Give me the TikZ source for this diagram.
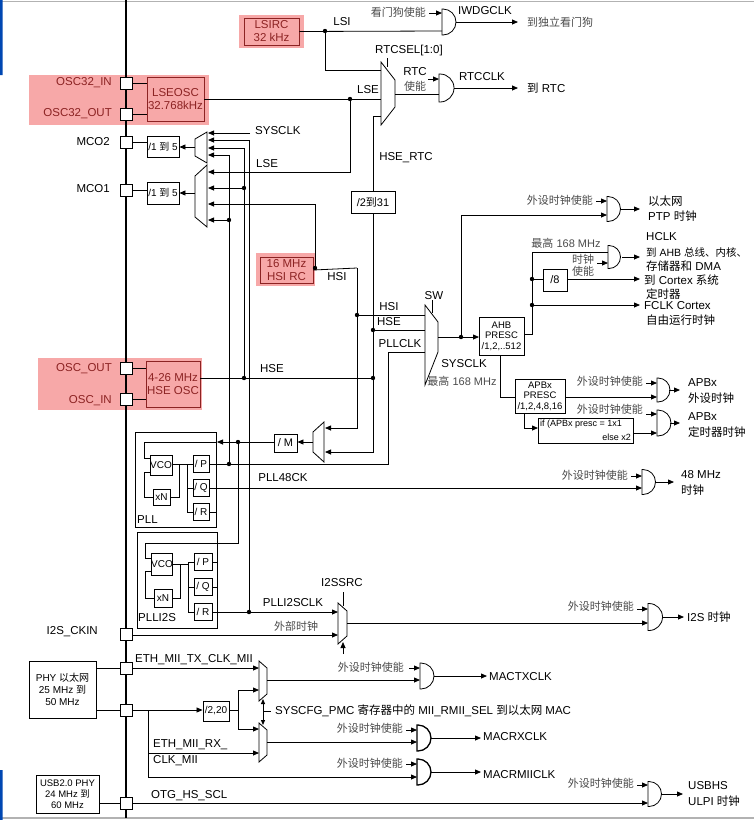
\documentclass[tikz,border=0pt]{standalone}
\usepackage{fontspec}
\setmainfont{Liberation Sans}
\newfontfamily\cjk{Noto Sans CJK SC}
\newcommand{\zh}[1]{{\cjk #1}}
\usetikzlibrary{arrows.meta}
\definecolor{hl}{RGB}{247,168,168}
\definecolor{hb}{RGB}{140,35,35}
\newcommand{\andgate}[4][]{\draw[ln,#1] (#2,#3-#4/2) -- (#2,#3+#4/2) -- ++(1,0) arc(90:-90:#4/2) -- cycle;}
\newcommand{\mux}[6]{\draw[ln] (#1,#2) -- (#1,#3) -- (#4,#6) -- (#4,#5) -- cycle;}
\newcommand{\jdot}[2]{\fill (#1,#2) circle (2.2);}
\begin{document}
\begin{tikzpicture}[x=1pt,y=-1pt,
 ln/.style={line width=0.8pt},
 arr/.style={ln,-{Triangle[length=6pt,width=5pt]}},
 lb/.style={font=\fontsize{11.5}{13}\selectfont,inner sep=1pt},
 sm/.style={font=\fontsize{9}{10}\selectfont,inner sep=1pt},
 en/.style={font=\fontsize{11}{12}\selectfont,inner sep=1pt,text=black!70},
 box/.style={draw,line width=0.9pt,inner sep=0pt,align=center,font=\fontsize{10}{11}\selectfont},
 rbox/.style={box,draw=hb,text=hb,font=\fontsize{11.5}{13}\selectfont},
 pin/.style={draw,line width=0.9pt,fill=white,minimum size=12pt,inner sep=0pt}]
\useasboundingbox (0,0) rectangle (754,820);
\fill[white] (0,0) rectangle (754,820);
\draw[gray!60,line width=1.5pt] (0,1.5)--(754,1.5) (0,818)--(754,818);
\fill[blue!60!cyan!70!black] (0,0) rectangle (2.5,75) (0,770) rectangle (2.5,820);
% highlights
\fill[hl] (29,75) rectangle (209,125);
\fill[hl] (239,15) rectangle (304,48);
\fill[hl] (256,253) rectangle (315,286);
\fill[hl] (38,358) rectangle (202,410);
% main bus
\draw[line width=2pt] (126,0) -- (126,818);
% pins
\node[pin] (p32i) at (126,83) {};
\node[pin] (p32o) at (126,114) {};
\node[pin] (pm2) at (126,142) {};
\node[pin] (pm1) at (126,190) {};
\node[pin] (poo) at (126,368) {};
\node[pin] (poi) at (126,399) {};
\node[pin] (pi2s) at (126,634) {};
\node[pin] (ph1) at (126,668) {};
\node[pin] (ph2) at (126,710) {};
\node[pin] (pusb) at (126,803) {};
\node[lb,text=hb,anchor=east] at (113,83) {OSC32\_IN};
\node[lb,text=hb,anchor=east] at (113,114) {OSC32\_OUT};
\node[lb,anchor=east] at (111,142) {MCO2};
\node[lb,anchor=east] at (111,189) {MCO1};
\node[lb,text=hb,anchor=east] at (113,369) {OSC\_OUT};
\node[lb,text=hb,anchor=east] at (113,401) {OSC\_IN};
\node[lb,anchor=east] at (99,632) {I2S\_CKIN};
% oscillators
\node[rbox,minimum width=55pt,minimum height=27pt] (lsi) at (271.5,31.5) {LSIRC\\32 kHz};
\node[rbox,minimum width=57pt,minimum height=44pt] (lse) at (175.5,99) {LSEOSC\\32.768kHz};
\node[rbox,minimum width=53pt,minimum height=26pt] (hsi) at (286.5,270) {16 MHz\\HSI RC};
\node[rbox,minimum width=54pt,minimum height=46pt] (hse) at (173,384) {4-26 MHz\\HSE OSC};
\draw[ln] (p32i.east) -- (147,83) (p32o.east) -- (147,114) (poo.east) -- (146,368) (poi.east) -- (146,399);
% LSI
\draw[ln] (lsi.east) -- (442,31);
\jdot{325}{31}
\draw[ln] (325,31) -- (325,70) -- (381,70);
\node[lb] at (342,22) {LSI};
\andgate{442}{22}{26}
\draw[arr] (429,13) -- (442,13);
\node[en,anchor=east] at (427,12) {\zh{看门狗使能}};
\draw[arr] (456,22) -- (518,22);
\node[lb] at (485,11) {IWDGCLK};
\node[en,anchor=west] at (526,22) {\zh{到独立看门狗}};
% RTC mux
\mux{381}{62}{125}{395}{80}{107}
\draw[ln] (387,58) -- (387,67);
\node[lb] at (409,51) {RTCSEL[1:0]};
\draw[ln] (395,94) -- (439,94);
\andgate{439}{88}{28}
\draw[arr] (428,79) -- (439,79);
\node[lb] at (415,72) {RTC};
\node[en] at (415,86) {\zh{使能}};
\draw[arr] (454,88) -- (518,88);
\node[lb] at (482,77) {RTCCLK};
\node[lb,anchor=west] at (526,88) {\zh{到} RTC};
% LSE
\draw[ln] (lse.east |- 0,99) -- (381,99);
\node[lb] at (368,90) {LSE};
\jdot{350}{99}
\draw[arr] (350,99) -- (350,172) -- (208,172);
\node[lb,anchor=west] at (255,164) {LSE};
% HSE_RTC
\node[box,minimum width=44pt,minimum height=22pt,font=\fontsize{11}{12}\selectfont] (div31) at (373,202) {/2\zh{到}31};
\draw[ln] (div31.north) -- (373,116) -- (381,116);
\node[lb] at (406,158) {HSE\_RTC};
\draw[ln] (div31.south) -- (373,378);
% MCO
\mux{207}{132}{163}{195}{139}{156}
\mux{207}{165}{227}{195}{176}{217}
\node[box,minimum width=32pt,minimum height=21pt] (d2) at (163,147) {/1 \zh{到} 5};
\node[box,minimum width=32pt,minimum height=22pt] (d1) at (163,193) {/1 \zh{到} 5};
\draw[arr] (195,147) -- (d2.east);
\draw[arr] (195,193) -- (d1.east);
\draw[ln] (pm2.east) -- (147,142);
\draw[ln] (pm1.east) -- (147,190);
\draw[arr] (250,133) -- (208,133);
\node[lb,anchor=west] at (254,131) {SYSCLK};
\draw[arr] (249,612) -- (249,140) -- (208,140);
\draw[arr] (244,378) -- (244,148) -- (208,148);
\draw[arr] (229,464) -- (229,155) -- (208,155);
\jdot{244}{188} \draw[arr] (244,188) -- (208,188);
\jdot{229}{220} \draw[arr] (229,220) -- (208,220);
% HSI
\draw[ln] (hsi.east) -- (357,268);
\jdot{315}{268}
\draw[arr] (315,268) -- (315,204) -- (208,204);
\node[lb] at (337,277) {HSI};
\draw[arr] (357,268) -- (357,428) -- (325,428);
\jdot{357}{315}
\draw[ln] (357,315) -- (425,315);
\node[lb] at (389,307) {HSI};
% HSE
\draw[ln] (hse.east |- 0,378) -- (373,378);
\jdot{244}{378} \jdot{373}{378}
\node[lb] at (272,369) {HSE};
\jdot{373}{330}
\draw[ln] (373,330) -- (425,330);
\node[lb] at (389,322) {HSE};
\draw[arr] (373,378) -- (373,452) -- (325,452);
% PLLCLK
\draw[ln] (229,464) -- (388,464) -- (388,352) -- (425,352);
\jdot{229}{464}
\node[lb] at (400,344) {PLLCLK};
% SW
\mux{425}{305}{385}{438}{322}{352}
\draw[ln] (432,300) -- (432,313);
\node[lb] at (434,296) {SW};
\draw[arr] (438,337) -- (479,337);
\jdot{461}{337}
\node[lb] at (464,364) {SYSCLK};
\node[en] at (462,381) {\zh{最高} 168 MHz};
% AHB
\node[box,minimum width=45pt,minimum height=38pt,font=\fontsize{9.5}{10.5}\selectfont] (ahb) at (501.5,336) {AHB\\PRESC\\/1,2,..512};
\draw[ln] (524,334) -- (532,334) -- (532,252) -- (608,252);
\node[en] at (566,243) {\zh{最高} 168 MHz};
\andgate{608}{257}{23}
\draw[arr] (597,263) -- (608,263);
\node[en] at (583,259) {\zh{时钟}};
\node[en] at (583,271) {\zh{使能}};
\draw[arr] (622,257) -- (640,257);
\node[lb,anchor=west] at (645,237) {HCLK};
\node[lb,anchor=west,font=\fontsize{10.5}{12}\selectfont] at (645,252) {\zh{到} AHB \zh{总线、内核、}};
\node[lb,anchor=west] at (645,266) {\zh{存储器和} DMA};
\jdot{532}{279}
\node[box,minimum width=24pt,minimum height=22pt,font=\fontsize{11}{12}\selectfont] (d8) at (555,280) {/8};
\draw[ln] (532,279) -- (d8.west |- 0,279);
\draw[arr] (d8.east |- 0,279) -- (640,279);
\node[lb,anchor=west] at (643,280) {\zh{到} Cortex \zh{系统}};
\node[lb,anchor=west] at (645,294) {\zh{定时器}};
\jdot{532}{305}
\draw[arr] (532,305) -- (640,305);
\node[lb,anchor=west] at (643,306) {FCLK Cortex};
\node[lb,anchor=west] at (645,320) {\zh{自由运行时钟}};
% PTP
\draw[arr] (461,337) -- (461,215) -- (607,215);
\andgate{607}{209}{25}
\draw[arr] (596,201) -- (607,201);
\node[en,anchor=east] at (594,200) {\zh{外设时钟使能}};
\draw[arr] (620,209) -- (640,209);
\node[lb,anchor=west] at (647,201) {\zh{以太网}};
\node[lb,anchor=west] at (647,216) {PTP \zh{时钟}};
% APB
\node[box,minimum width=50pt,minimum height=34pt,font=\fontsize{9.5}{10.5}\selectfont] (apb) at (540,396) {APBx\\PRESC\\/1,2,4,8,16};
\draw[ln] (500,355) -- (500,397) -- (515,397);
\draw[arr] (565,397) -- (657,397);
\andgate{657}{390}{24}
\draw[arr] (646,383) -- (657,383);
\node[en,anchor=east] at (644,381) {\zh{外设时钟使能}};
\draw[arr] (669,390) -- (680,390);
\node[lb,anchor=west] at (687,383) {APBx};
\node[lb,anchor=west] at (687,398) {\zh{外设时钟}};
\node[box,minimum width=95pt,minimum height=25pt] (ifb) at (585.5,430.5) {};
\node[sm,anchor=west] at (539,424) {if (APBx presc = 1x1};
\node[sm,anchor=east] at (632,437) {else x2};
\draw[arr] (524,413) -- (524,428) -- (538,428);
\draw[arr] (633,433) -- (657,433);
\andgate{657}{423}{26}
\draw[arr] (646,414) -- (657,414);
\node[en,anchor=east] at (644,409) {\zh{外设时钟使能}};
\draw[arr] (670,423) -- (680,423);
\node[lb,anchor=west] at (687,417) {APBx};
\node[lb,anchor=west] at (687,432) {\zh{定时器时钟}};
% PLL source mux and /M
\mux{324}{422}{462}{313}{432}{452}
\node[box,minimum width=23pt,minimum height=18pt,font=\fontsize{11}{12}\selectfont] (dm) at (285.5,443) {/ M};
\draw[arr] (313,442) -- (dm.east |- 0,442);
\draw[arr] (dm.west |- 0,442) -- (217,442);
\jdot{238}{442}
% PLL
\draw[line width=1pt] (135,432) rectangle (216,527);
\node[lb,anchor=west] at (136,520) {PLL};
\node[box,minimum width=22pt,minimum height=20pt] (vco1) at (161,465) {VCO};
\node[box,minimum width=17pt,minimum height=16pt] (xn1) at (161.5,497) {xN};
\node[box,minimum width=16pt,minimum height=17pt] (p1) at (201,464) {/ P};
\node[box,minimum width=16pt,minimum height=17pt] (q1) at (201,488) {/ Q};
\node[box,minimum width=16pt,minimum height=17pt] (r1) at (201,512) {/ R};
\draw[ln] (217,442) -- (144,442) -- (144,458) -- (150,458);
\draw[ln] (150,472) -- (144,472) -- (144,497) -- (xn1.west);
\draw[ln] (xn1.east) -- (179,497) -- (179,464);
\draw[ln] (vco1.east |- 0,464) -- (p1.west |- 0,464);
\draw[ln] (187,464) -- (187,512) -- (r1.west);
\draw[ln] (187,488) -- (q1.west);
\draw[ln] (p1.east |- 0,464) -- (229,464);
\draw[ln] (r1.east) -- (216,512);
\draw[arr] (q1.east) -- (642,488);
\node[lb] at (283,478) {PLL48CK};
\andgate{642}{482}{25}
\draw[arr] (631,476) -- (642,476);
\node[en,anchor=east] at (629,475) {\zh{外设时钟使能}};
\draw[arr] (655,482) -- (674,482);
\node[lb,anchor=west] at (680,475) {48 MHz};
\node[lb,anchor=west] at (680,490) {\zh{时钟}};
% PLLI2S
\draw[line width=1pt] (137,532) rectangle (217,628);
\node[lb,anchor=west] at (137,618) {PLLI2S};
\node[box,minimum width=21pt,minimum height=22pt] (vco2) at (162,564) {VCO};
\node[box,minimum width=18pt,minimum height=18pt] (xn2) at (163,598) {xN};
\node[box,minimum width=18pt,minimum height=17pt] (p2) at (203,562) {/ P};
\node[box,minimum width=18pt,minimum height=17pt] (q2) at (203,587) {/ Q};
\node[box,minimum width=18pt,minimum height=17pt] (r2) at (203,612) {/ R};
\draw[ln] (238,442) -- (238,543) -- (145,543) -- (145,558) -- (151.5,558);
\draw[ln] (151.5,571) -- (145,571) -- (145,598) -- (xn2.west);
\draw[ln] (xn2.east) -- (180,598) -- (180,564);
\draw[ln] (vco2.east |- 0,564) -- (188,564);
\draw[ln] (188,562) -- (188,612) -- (r2.west);
\draw[ln] (188,562) -- (p2.west) (188,587) -- (q2.west);
\draw[ln] (p2.east) -- (217,562) (q2.east) -- (217,587);
\draw[arr] (r2.east) -- (338,612);
\jdot{249}{612}
\node[lb] at (293,603) {PLLI2SCLK};
% I2S
\draw[arr] (pi2s.east |- 0,635) -- (338,635);
\node[en] at (296,626) {\zh{外部时钟}};
\mux{338}{603}{644}{347}{611}{636}
\draw[ln] (343,592) -- (343,606);
\draw[arr] (343,654) -- (343,642);
\node[lb] at (342,583) {I2SSRC};
\draw[arr] (347,623) -- (648,623);
\andgate{648}{617}{27}
\draw[arr] (637,609) -- (648,609);
\node[en,anchor=east] at (635,606) {\zh{外设时钟使能}};
\draw[arr] (662,617) -- (684,617);
\node[lb,anchor=west] at (686,617) {I2S \zh{时钟}};
% Ethernet
\node[box,minimum width=67pt,minimum height=57pt,font=\fontsize{10}{12}\selectfont] (phy) at (62.5,689.5) {PHY \zh{以太网}\\25 MHz \zh{到}\\50 MHz};
\draw[ln] (96,668) -- (ph1.west) (96,710) -- (ph2.west);
\draw[arr] (ph1.east) -- (259,668);
\node[lb,anchor=west] at (134,660) {ETH\_MII\_TX\_CLK\_MII};
\node[box,minimum width=26pt,minimum height=20pt] (d220) at (216,711) {/2,20};
\draw[arr] (ph2.east) -- (d220.west |- 0,710);
\draw[ln] (d220.east |- 0,710) -- (238,710);
\draw[arr] (238,710) -- (238,690) -- (259,690);
\draw[arr] (238,710) -- (238,729) -- (259,729);
\draw[arr] (148,710) -- (148,777) -- (417,777);
\draw[arr] (148,753) -- (259,753);
\node[lb,anchor=west] at (152,745) {ETH\_MII\_RX\_};
\node[lb,anchor=west] at (152,761) {CLK\_MII};
\mux{259}{661}{701}{267}{668}{694}
\mux{259}{723}{762}{267}{730}{755}
\draw[ln,{Triangle[length=5pt,width=4pt]}-{Triangle[length=5pt,width=4pt]}] (263,699) -- (263,725);
\draw[ln] (263,711) -- (271,711);
\node[lb,anchor=west] at (274,711) {SYSCFG\_PMC \zh{寄存器中的} MII\_RMII\_SEL \zh{到以太网} MAC};
\draw[arr] (267,680) -- (420,680);
\andgate{420}{676}{26}
\draw[arr] (409,668) -- (420,668);
\node[en,anchor=east] at (405,667) {\zh{外设时钟使能}};
\draw[arr] (434,676) -- (487,676);
\node[lb,anchor=west] at (488,677) {MACTXCLK};
\draw[arr] (267,742) -- (417,742);
\andgate[line width=1.3pt]{417}{738}{26}
\draw[arr] (406,730) -- (417,730);
\node[en,anchor=east] at (404,728) {\zh{外设时钟使能}};
\draw[arr] (431,738) -- (481,738);
\node[lb,anchor=west] at (482,737) {MACRXCLK};
\andgate[line width=1.3pt]{417}{772}{26}
\draw[arr] (406,764) -- (417,764);
\node[en,anchor=east] at (404,763) {\zh{外设时钟使能}};
\draw[arr] (431,772) -- (481,772);
\node[lb,anchor=west] at (482,775) {MACRMIICLK};
% USB
\node[box,minimum width=63pt,minimum height=38pt,font=\fontsize{9.5}{11}\selectfont] (usb) at (67.5,794) {USB2.0 PHY\\24 MHz \zh{到}\\60 MHz};
\draw[ln] (99,803) -- (pusb.west);
\draw[arr] (pusb.east) -- (648,803);
\node[lb,anchor=west] at (150,796) {OTG\_HS\_SCL};
\andgate{648}{794}{25}
\draw[arr] (637,785) -- (648,785);
\node[en,anchor=east] at (635,783) {\zh{外设时钟使能}};
\draw[arr] (661,794) -- (683,794);
\node[lb,anchor=west] at (687,786) {USBHS};
\node[lb,anchor=west] at (687,801) {ULPI \zh{时钟}};
\end{tikzpicture}
\end{document}
